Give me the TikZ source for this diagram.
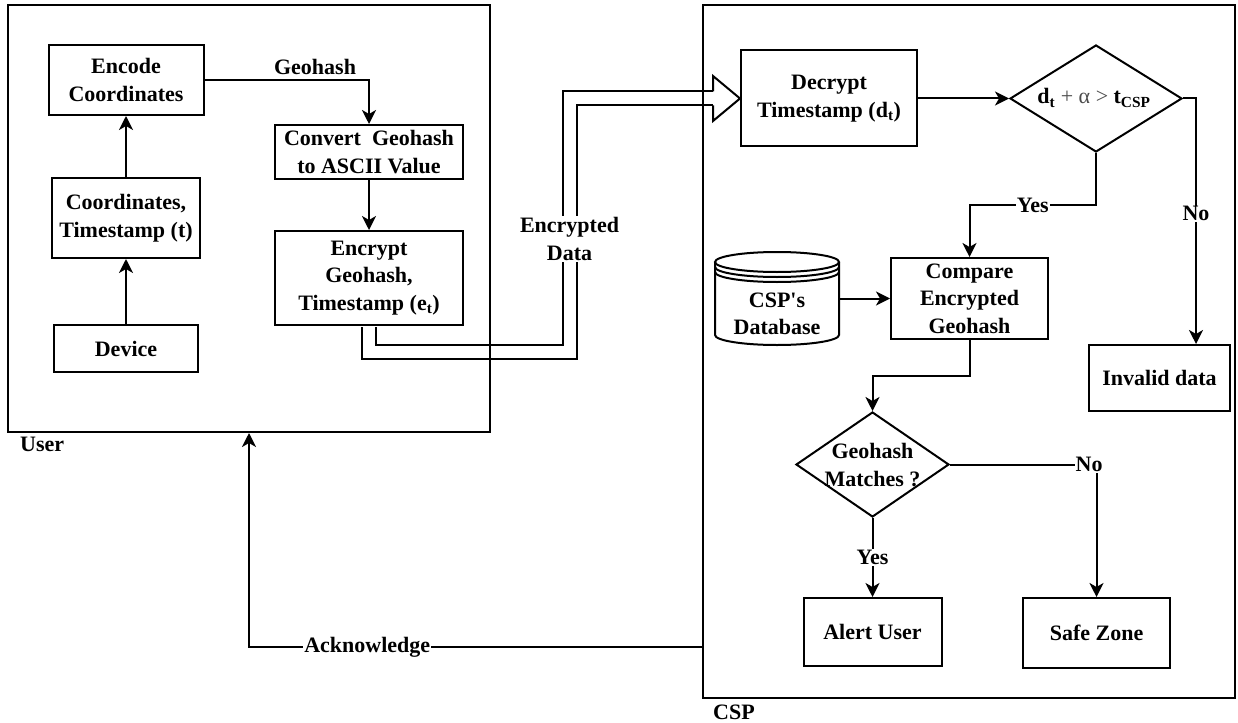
\documentclass[tikz,border=0pt]{standalone}
\usepackage{fontspec}
\setmainfont{Liberation Serif}
\usetikzlibrary{arrows.meta,shapes.geometric,calc}
% straight apostrophe, bypassing the TeX ligature mapping
\newcommand{\straightquote}{\XeTeXglyph\the\XeTeXcharglyph"0027\relax}

\begin{document}
\begin{tikzpicture}[x=1pt,y=-1pt,
  every node/.style={font=\fontsize{22}{27.5}\selectfont\bfseries},
  box/.style={draw,line width=2pt,rectangle,inner sep=0pt,align=center},
  frame/.style={draw,line width=2pt,rectangle,inner sep=0pt},
  decision/.style={draw,line width=2pt,diamond,inner sep=0pt},
  flow/.style={line width=2pt,-{Stealth[length=14pt,width=14pt,inset=4pt]}},
  lbl/.style={fill=white,inner sep=1pt},
  cyl/.style={draw,line width=2pt,fill=white},
]
\useasboundingbox (0,0) rectangle (1238,722);

% ---------- user side ----------
\node[box,minimum width=155pt,minimum height=70pt] (enc) at (126,80) {Encode\\Coordinates};
\node[box,minimum width=148pt,minimum height=80pt] (coord) at (126,218) {Coordinates,\\Timestamp (t)};
\node[box,minimum width=144pt,minimum height=47pt] (dev) at (126,348.5) {Device};
\node[box,minimum width=188pt,minimum height=54pt] (conv) at (369,152) {Convert\ \ Geohash\\to ASCII Value};
\node[box,minimum width=188pt,minimum height=94pt] (encr) at (369,278) {Encrypt\\Geohash,\\Timestamp (e\textsubscript{t})};

% ---------- CSP side ----------
\node[box,minimum width=176pt,minimum height=96pt] (dec) at (829,98.5) {Decrypt\\Timestamp (d\textsubscript{t})};
\node[decision,minimum width=172pt,minimum height=107pt] (d1) at (1096,98.5) {};
\node (d1t) at (1094,98) {d\textsubscript{t} {\mdseries\color{black!70}+ α >} t\textsubscript{CSP}};
\node[box,minimum width=141pt,minimum height=66pt] (inv) at (1159.5,378) {Invalid data};
\node[box,minimum width=157pt,minimum height=81pt] (cmp) at (969.5,298.5) {Compare\\Encrypted\\Geohash};

% database cylinder
\node[inner sep=0pt,minimum width=124pt,minimum height=93pt] (db) at (777,298.5) {};
\draw[cyl] (715,262) -- (715,335) arc[start angle=180,end angle=360,x radius=62pt,y radius=10pt] -- (839,262);
\draw[cyl] (777,262) ellipse [x radius=62pt,y radius=10pt];
\draw[line width=2pt] (715,267) arc[start angle=180,end angle=360,x radius=62pt,y radius=10pt];
\draw[line width=2pt] (715,272) arc[start angle=180,end angle=360,x radius=62pt,y radius=10pt];
\node[align=center] (dbt) at (777,314) {CSP\straightquote s\\Database};

\node[decision,minimum width=153pt,minimum height=105pt] (d2) at (872.5,464.5) {};
\node[align=center] (d2t) at (872.5,465) {Geohash\\Matches ?};
\node[box,minimum width=138pt,minimum height=68pt] (alert) at (872.5,632) {Alert User};
\node[box,minimum width=147pt,minimum height=70pt] (safe) at (1096.5,633) {Safe Zone};

% ---------- hollow transfer arrow ----------
\coordinate (rb) at (569.5,352);
\coordinate (hb) at ($(dec.west)+(-27,0)$);
\draw[line width=2pt,double=white,double distance=12pt,line join=miter]
  ($(encr.south)+(0,1)$) |- (rb) |- (hb);
\fill[white] ($(hb)+(0,-22.5)$) -- (dec.west) -- ($(hb)+(0,22.5)$) -- cycle;
\draw[line width=2pt,line join=miter]
  ($(hb)+(0,-7)$) -- ($(hb)+(0,-22.5)$) -- (dec.west) -- ($(hb)+(0,22.5)$) -- ($(hb)+(0,7)$);
\node[fill=white,align=center,inner sep=2pt] (encdata) at (569.5,239) {Encrypted\\Data};

% ---------- frames ----------
\node[frame,minimum width=482pt,minimum height=427pt] (user) at (249,218.5) {};
\node[frame,minimum width=532pt,minimum height=693pt] (csp) at (969,351.5) {};
\node[anchor=west,inner sep=0pt] (userlbl) at (20,444) {User};
\node[anchor=west,inner sep=0pt] (csplbl) at (713,712) {CSP};

% ---------- connectors ----------
\draw[flow] (dev) -- (coord);
\draw[flow] (coord) -- (enc);
\draw[flow] (enc.east) -| node[pos=0.336,above=4pt,inner sep=0pt] (gh) {Geohash} (conv.north);
\draw[flow] (conv) -- (encr);

\draw[flow] (dec) -- (d1);
\draw[flow] (d1.east) -- ++(13,0) coordinate (n1) -- node[lbl,pos=0.47] (no1) {No} (n1 |- inv.north);
\draw[flow] (d1.south) -- ++(0,52) coordinate (y1) -- node[lbl] (yes1) {Yes} (y1 -| cmp.north) -- (cmp.north);
\draw[flow] (db.east) -- (cmp.west);
\draw[flow] (cmp.south) -- ++(0,36) -| (d2.north);
\draw[flow] (d2.south) -- node[lbl] (yes2) {Yes} (alert.north);
\draw[flow] (d2.east) -- node[lbl,pos=0.95] (no2) {No} (d2.east -| safe.north) -- (safe.north);

\coordinate (ack1) at (249,647);
\draw[flow] (ack1 -| csp.west) -- node[lbl,pos=0.739] (ack) {Acknowledge} (ack1) -- (ack1 |- user.south);
\end{tikzpicture}
\end{document}
